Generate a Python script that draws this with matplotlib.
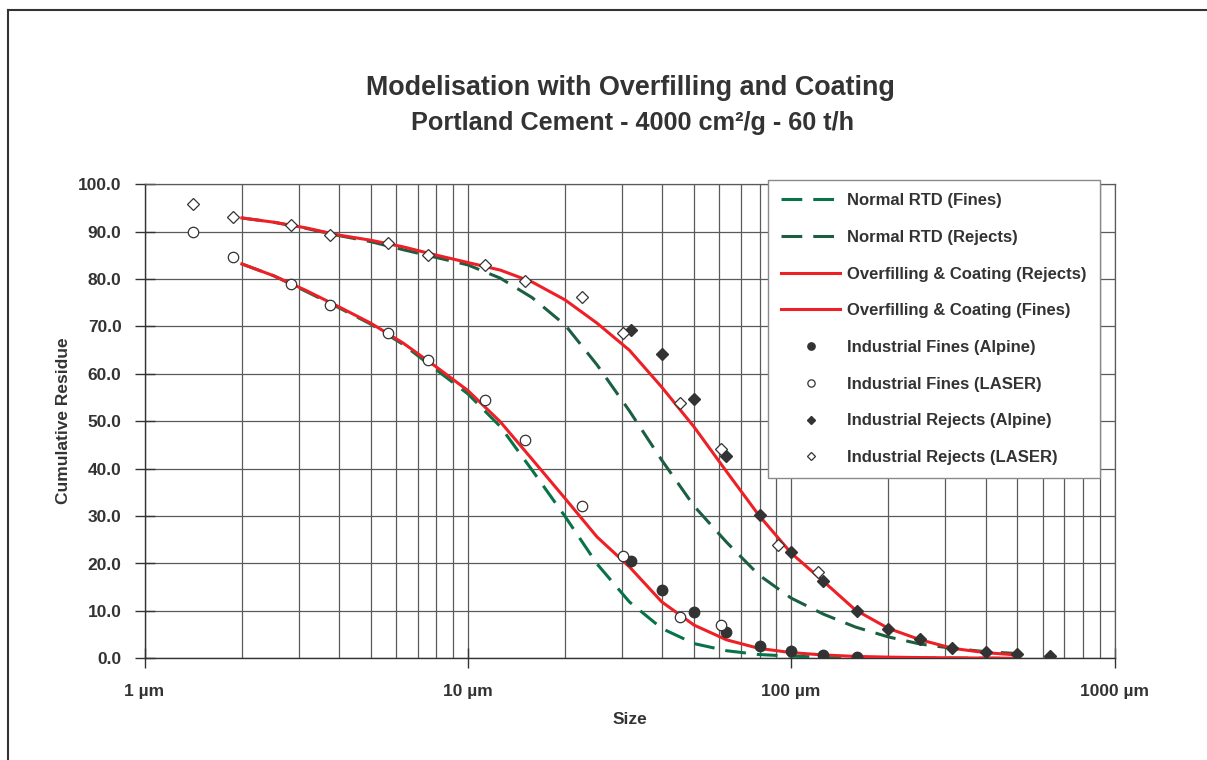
import matplotlib
matplotlib.use("Agg")
import matplotlib.pyplot as plt
from matplotlib.lines import Line2D
from matplotlib.ticker import FixedLocator, LogLocator, NullFormatter, FuncFormatter

# ---------------- data ----------------
curve_sizes = [2.0, 2.51, 3.16, 3.98, 5.01, 6.31, 7.94, 10.0, 12.6, 15.8, 20.0, 25.1,
               31.6, 39.8, 50.1, 63.1, 79.4, 100.0, 126.0, 158.0, 200.0, 251.0,
               316.0, 398.0, 501.0]
normal_fines = [83.2, 80.7, 77.4, 74.0, 70.5, 66.2, 61.0, 55.8, 48.9, 39.7, 29.9, 19.9,
                11.9, 6.3, 3.1, 1.6, 0.8, 0.45, 0.25, 0.15, 0.1, 0.05, 0.03, 0.02, 0.01]
normal_rejects = [92.9, 92.0, 90.7, 89.2, 87.9, 86.2, 84.6, 83.0, 80.2, 76.1, 70.3, 61.9,
                  52.2, 41.8, 32.1, 24.5, 17.6, 12.7, 9.3, 6.6, 4.5, 3.0, 2.1, 1.4, 1.0]
oc_rejects = [92.9, 92.0, 90.8, 89.3, 88.2, 86.8, 85.1, 83.5, 81.9, 79.4, 75.6, 70.7,
              65.0, 57.2, 48.8, 39.4, 30.2, 22.2, 16.2, 10.2, 6.3, 3.9, 2.1, 1.2, 0.7]
oc_fines = [83.2, 80.7, 77.6, 74.2, 70.7, 66.5, 61.6, 56.5, 49.9, 42.0, 33.7, 25.6,
            19.3, 11.9, 7.0, 3.9, 2.1, 1.2, 0.7, 0.4, 0.25, 0.15, 0.1, 0.05, 0.0]

alpine_sizes = [32, 40, 50, 63, 80, 100, 125, 160, 200, 250, 315, 400, 500, 630]
fines_alpine = [20.5, 14.5, 9.7, 5.5, 2.5, 1.5, 0.7, 0.35]
rejects_alpine = [69.3, 64.2, 54.6, 42.7, 30.2, 22.4, 16.3, 10.0, 6.2, 4.0, 2.1, 1.3, 0.85, 0.4]

laser_sizes = [1.41, 1.88, 2.83, 3.76, 5.66, 7.52, 11.3, 15.0, 22.6, 30.3, 45.4, 60.8, 91.0, 121.0]
fines_laser = [89.9, 84.6, 79.0, 74.5, 68.6, 63.0, 54.5, 46.1, 32.1, 21.6, 8.7, 7.0]
rejects_laser = [95.9, 93.2, 91.4, 89.3, 87.6, 85.0, 82.9, 79.7, 76.2, 68.6, 53.9, 44.1, 24.0, 18.3]

y_ticks = [0, 10, 20, 30, 40, 50, 60, 70, 80, 90, 100]
x_ticks = [1, 10, 100, 1000]
x_tick_labels = ["1 µm", "10 µm", "100 µm", "1000 µm"]

labels = ["Normal RTD (Fines)", "Normal RTD (Rejects)",
          "Overfilling & Coating (Rejects)", "Overfilling & Coating (Fines)",
          "Industrial Fines (Alpine)", "Industrial Fines (LASER)",
          "Industrial Rejects (Alpine)", "Industrial Rejects (LASER)"]

title1 = "Modelisation with Overfilling and Coating"
title2 = "Portland Cement - 4000 cm²/g - 60 t/h"

# ---------------- style ----------------
plt.rcParams['font.family'] = ['Liberation Sans', 'DejaVu Sans']
plt.rcParams['font.weight'] = 'bold'
TXT = '#333333'
GRID = '#5a5a5a'
RED = '#ee2026'
GREEN_F = '#087249'
GREEN_R = '#1c5e42'
MK = '#333333'

W, H = 1207, 760
fig = plt.figure(figsize=(W / 100, H / 100), dpi=100)
ax = fig.add_axes([144.5 / W, 1 - 658.3 / H, 970 / W, 474 / H])

ax.set_xscale('log')
ax.set_xlim(1, 1000)
ax.set_ylim(0, 100)

dash = (0, (6.8, 3.6))
h1, = ax.plot(curve_sizes, normal_fines, color=GREEN_F, lw=2.2, ls=dash, zorder=3)
h2, = ax.plot(curve_sizes, normal_rejects, color=GREEN_R, lw=2.2, ls=dash, zorder=3)
h3, = ax.plot(curve_sizes, oc_rejects, color=RED, lw=2.2, zorder=4)
h4, = ax.plot(curve_sizes, oc_fines, color=RED, lw=2.2, zorder=4)

h5, = ax.plot(alpine_sizes[:len(fines_alpine)], fines_alpine, ls='none', marker='o',
              ms=7.5, mfc=MK, mec=MK, zorder=5)
h6, = ax.plot(laser_sizes[:len(fines_laser)], fines_laser, ls='none', marker='o',
              ms=7.5, mfc='white', mec=MK, mew=0.9, zorder=5)
h7, = ax.plot(alpine_sizes, rejects_alpine, ls='none', marker='D',
              ms=6, mfc=MK, mec=MK, zorder=5)
h8, = ax.plot(laser_sizes, rejects_laser, ls='none', marker='D',
              ms=6, mfc='white', mec=MK, mew=0.9, zorder=5)

# ticks & grid
ax.xaxis.set_major_locator(FixedLocator(x_ticks))
ax.xaxis.set_minor_locator(LogLocator(base=10, subs=range(2, 10), numticks=20))
ax.xaxis.set_minor_formatter(NullFormatter())
ax.set_xticks(x_ticks)
ax.set_xticklabels(x_tick_labels)
ax.set_yticks(y_ticks)
ax.yaxis.set_major_formatter(FuncFormatter(lambda v, p: f"{v:.1f}"))

ax.grid(True, which='both', axis='x', color=GRID, lw=0.9, zorder=0)
ax.grid(True, which='major', axis='y', color=GRID, lw=0.9, zorder=0)
ax.set_axisbelow(True)

ax.tick_params(axis='both', which='major', direction='inout', length=14, width=1,
               color=TXT, labelcolor=TXT, labelsize=12.5)
ax.tick_params(axis='y', which='major', pad=9.5)
ax.tick_params(axis='x', which='major', pad=11.5)
ax.tick_params(axis='x', which='minor', length=0)
for lab in ax.get_xticklabels() + ax.get_yticklabels():
    lab.set_fontweight('bold')

for s in ['left', 'bottom']:
    ax.spines[s].set_color(TXT)
    ax.spines[s].set_linewidth(1.0)
for s in ['top', 'right']:
    ax.spines[s].set_color(GRID)
    ax.spines[s].set_linewidth(0.9)

# labels & titles
fig.text(630 / W, 1 - 88 / H, title1, ha='center', va='center', fontsize=19.4,
         fontweight='bold', color=TXT)
fig.text(633 / W, 1 - 123 / H, title2, ha='center', va='center', fontsize=18.2,
         fontweight='bold', color=TXT)
fig.text(63 / W, 1 - 421 / H, "Cumulative Residue", rotation=90, ha='center',
         va='center', fontsize=12.5, fontweight='bold', color=TXT)
fig.text(630 / W, 1 - 720 / H, "Size", ha='center', va='center', fontsize=12.5,
         fontweight='bold', color=TXT)

# legend
leg = ax.legend([h1, h2, h3, h4, h5, h6, h7, h8], labels,
                loc='upper left', bbox_to_anchor=(768 / W, 1 - 180 / H),
                bbox_transform=fig.transFigure, borderaxespad=0,
                fontsize=12, frameon=True, fancybox=False, shadow=False,
                handlelength=3.5, handletextpad=0.45, labelspacing=1.3,
                borderpad=0.8, markerscale=0.7, framealpha=1)
leg.get_frame().set_edgecolor('#8a8a8a')
leg.get_frame().set_linewidth(1.0)
for t in leg.get_texts():
    t.set_color(TXT)
    t.set_fontweight('bold')
leg.set_zorder(10)

# outer frame (partially visible)
fig.add_artist(Line2D([8 / W, 8 / W], [0, 1 - 10 / H], transform=fig.transFigure,
                      color=TXT, lw=1.5))
fig.add_artist(Line2D([8 / W, 1], [1 - 10 / H, 1 - 10 / H], transform=fig.transFigure,
                      color=TXT, lw=1.5))

fig.savefig("out.png", dpi=100)
